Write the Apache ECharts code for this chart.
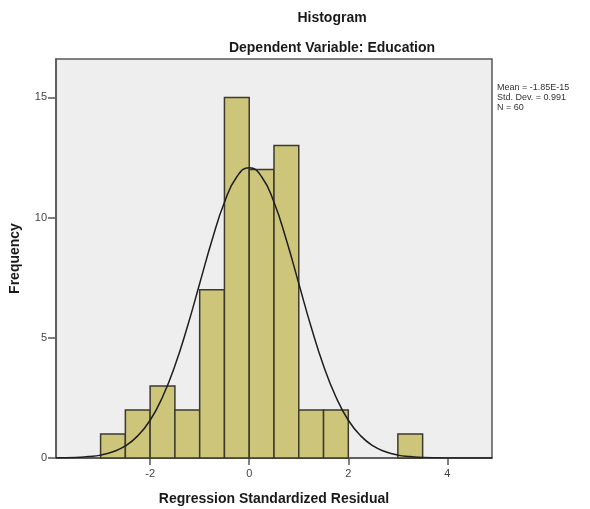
<!DOCTYPE html>
<html>
<head>
<meta charset="utf-8">
<script src="https://cdn.jsdelivr.net/npm/echarts@6/dist/echarts.min.js"></script>
<style>html,body{margin:0;padding:0;background:#fff}#c{width:590px;height:509px}</style>
</head>
<body>
<div id="c"></div>
<script>
// Histogram bins (start of each 0.5-wide bin) and frequencies
var binStarts = [-3, -2.5, -2, -1.5, -1, -0.5, 0, 0.5, 1, 1.5, 3];
var binCounts = [1, 2, 3, 2, 7, 15, 12, 13, 2, 2, 1];
var binWidth = 0.5;
// Normal curve points
var curveX = [-3.9, -3.5, -3.25, -3, -2.75, -2.5, -2.25, -2, -1.75, -1.5, -1.25, -1, -0.75, -0.5, -0.25, 0, 0.25, 0.5, 0.75, 1, 1.25, 1.5, 1.75, 2, 2.25, 2.5, 2.75, 3, 3.25, 3.5, 4, 4.5, 4.9];
var curveY = [0.01, 0.02, 0.06, 0.12, 0.26, 0.5, 0.92, 1.57, 2.54, 3.84, 5.45, 7.26, 9.07, 10.64, 11.7, 12.08, 11.7, 10.64, 9.07, 7.26, 5.45, 3.84, 2.54, 1.57, 0.92, 0.5, 0.26, 0.12, 0.06, 0.02, 0.003, 0, 0];
var xTicks = [-2, 0, 2, 4];
var yTicks = [0, 5, 10, 15];
var statsLines = ['Mean = -1.85E-15', 'Std. Dev. = 0.991', 'N = 60'];

var font = '"Liberation Sans", Arial, sans-serif';
var chart = echarts.init(document.getElementById('c'));
var barData = binStarts.map(function (s, i) { return [s, s + binWidth, binCounts[i]]; });
var curveData = curveX.map(function (x, i) { return [x, curveY[i]]; });

chart.setOption({
  animation: false,
  backgroundColor: '#ffffff',
  textStyle: { fontFamily: font },
  title: [
    { text: 'Histogram', left: 327, top: 6, textAlign: 'center',
      textStyle: { fontSize: 14, fontWeight: 'bold', color: '#1a1a1a', fontFamily: font } },
    { text: 'Dependent Variable: Education', left: 327, top: 36, textAlign: 'center',
      textStyle: { fontSize: 14, fontWeight: 'bold', color: '#1a1a1a', fontFamily: font } }
  ],
  grid: { left: 56, right: 98, top: 59, bottom: 51, containLabel: false, outerBoundsMode: 'none',
    show: true, backgroundColor: '#eeeeee', borderColor: '#5a5555', borderWidth: 1.5 },
  xAxis: {
    type: 'value', min: -3.9, max: 4.9,
    name: 'Regression Standardized Residual', nameLocation: 'middle', nameGap: 34,
    nameTextStyle: { fontSize: 14, fontWeight: 'bold', color: '#1a1a1a', fontFamily: font },
    axisLine: { show: true, onZero: false, lineStyle: { color: '#5a5555', width: 1.5 } },
    axisTick: { show: true, length: 7, customValues: xTicks, lineStyle: { color: '#5a5555', width: 1.5 } },
    axisLabel: { customValues: xTicks, color: '#444', fontSize: 11, margin: 10, fontFamily: font },
    splitLine: { show: false }
  },
  yAxis: {
    type: 'value', min: 0, max: 16.6,
    name: 'Frequency', nameLocation: 'middle', nameGap: 34,
    nameTextStyle: { fontSize: 14, fontWeight: 'bold', color: '#1a1a1a', fontFamily: font },
    axisLine: { show: true, onZero: false, lineStyle: { color: '#5a5555', width: 1.5 } },
    axisTick: { show: true, length: 8, customValues: yTicks, lineStyle: { color: '#5a5555', width: 1.5 } },
    axisLabel: { customValues: yTicks, color: '#444', fontSize: 11, margin: 9, fontFamily: font },
    splitLine: { show: false }
  },
  series: [
    {
      type: 'custom',
      data: barData,
      encode: { x: [0, 1], y: 2 },
      renderItem: function (params, api) {
        var p0 = api.coord([api.value(0), api.value(2)]);
        var p1 = api.coord([api.value(1), 0]);
        return {
          type: 'rect',
          shape: { x: p0[0], y: p0[1], width: p1[0] - p0[0], height: p1[1] - p0[1] },
          style: { fill: '#cdc67a', stroke: '#3d3a2c', lineWidth: 1.5 }
        };
      },
      z: 2
    },
    {
      type: 'line',
      data: curveData,
      smooth: true,
      showSymbol: false,
      lineStyle: { color: '#1e1e1e', width: 1.5 },
      z: 3
    }
  ],
  graphic: [
    { type: 'text', left: 497, top: 83,
      style: { text: statsLines.join('\n'), font: '9px ' + font, fill: '#333', lineHeight: 10 } }
  ]
});
</script>
</body>
</html>
